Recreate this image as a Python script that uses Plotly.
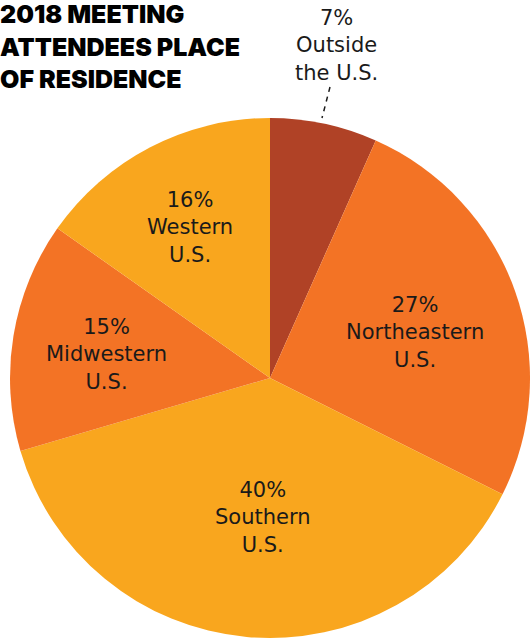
import plotly.graph_objects as go

# slices, clockwise from 12 o'clock
regions = ['Outside<br>the U.S.', 'Northeastern<br>U.S.', 'Southern<br>U.S.',
           'Midwestern<br>U.S.', 'Western<br>U.S.']
shares = [7, 27, 40, 15, 16]
colors = ['#B04226', '#F37325', '#F9A61E', '#F37325', '#F9A61E']

# label anchors (paper coords, middle line of each label)
label_x = [0.634, 0.783, 0.496, 0.200, 0.358]
label_y = [1 - 45 / 640, 1 - 332 / 640, 1 - 517 / 640, 1 - 354 / 640, 1 - 228 / 640]

title = '2018 MEETING<br>ATTENDEES PLACE<br>OF RESIDENCE'

fig = go.Figure(go.Pie(
    values=shares,
    labels=regions,
    marker=dict(colors=colors, line=dict(width=0)),
    sort=False,
    direction='clockwise',
    rotation=0,
    textinfo='none',
    hoverinfo='label+percent',
    showlegend=False,
    domain=dict(x=[10 / 530, 1], y=[2 / 640, 522 / 640]),
))

for reg, pct, x, y in zip(regions, shares, label_x, label_y):
    fig.add_annotation(
        x=x, y=y, xref='paper', yref='paper',
        text=f'{pct}%<br>{reg}', showarrow=False,
        font=dict(family='DejaVu Sans, sans-serif', size=21, color='#1a1a1a'),
        align='center', xanchor='center', yanchor='middle',
    )

fig.add_annotation(
    x=-0.004, y=1.004, xref='paper', yref='paper', text=title, showarrow=False,
    xanchor='left', yanchor='top', align='left',
    font=dict(family='Inter, Roboto, sans-serif', size=25, color='#000000', weight=900),
)

# dashed leader for the small slice
fig.add_shape(type='line', xref='paper', yref='paper',
              x0=330 / 530, y0=1 - 87 / 640, x1=322 / 530, y1=1 - 118 / 640,
              line=dict(color='#1a1a1a', width=1.5, dash='5px,5px'))

fig.update_layout(
    width=530, height=640,
    margin=dict(l=0, r=0, t=0, b=0),
    paper_bgcolor='white', plot_bgcolor='white',
)

fig.write_html('out.html', config={'displayModeBar': False},
               post_script="document.body.style.margin='0';")
